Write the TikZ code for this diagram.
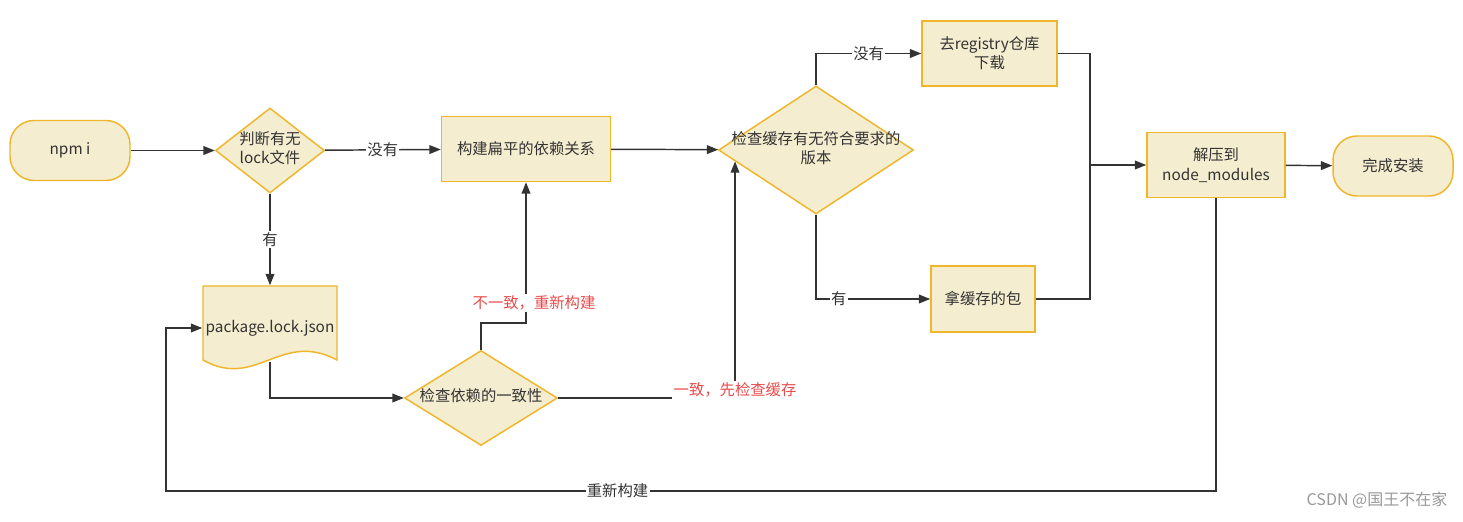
\documentclass[tikz,border=0pt]{standalone}
\usepackage{fontspec}
\setmainfont{Noto Sans CJK SC}
\usetikzlibrary{arrows.meta,shapes.geometric,calc}
\definecolor{boxfill}{HTML}{F5EDD0}
\definecolor{boxline}{HTML}{F0B62B}
\definecolor{wire}{HTML}{333333}
\definecolor{warn}{HTML}{E94B4B}
\newlength\px
\setlength\px{0.75pt}
\newcommand\diamtext[1]{\makebox[0pt]{\smash{\raisebox{-0.25em}{\begin{tabular}{@{}c@{}}#1\end{tabular}}}}}

\begin{document}
\begin{tikzpicture}[x=0.75pt,y=-0.75pt,font=\fontsize{11.5}{14.5}\selectfont]
 \tikzstyle{flow} = [draw=wire,line width=1.1pt,-{Triangle[length=8.5pt,width=6.5pt]}];
 \tikzstyle{wireline} = [draw=wire,line width=1.1pt];
 \tikzstyle{placeT} = [draw=boxline,fill=boxfill,line width=1.1pt,rounded corners=18pt,minimum width=120\px,minimum height=60\px,text=wire];
 \tikzstyle{placeP} = [draw=boxline,fill=boxfill,line width=1.1pt,align=center,text=wire,inner sep=0pt];
 \tikzstyle{placeD} = [diamond,draw=boxline,fill=boxfill,line width=1.1pt,inner sep=0pt,text=wire];
 \tikzstyle{lbl} = [fill=white,text=wire,inner sep=1pt];
 \tikzstyle{lblR} = [fill=white,text=warn,inner sep=1pt];

 \fill[white] (0,0) rectangle (1463,521);

 % document shape behind package.lock.json
 \filldraw[draw=boxline,fill=boxfill,line width=1.1pt] (203,286) -- (337,286) -- (337,360)
   .. controls (281,330) and (256,390) .. (203,360) -- cycle;

 \node[placeT,name=npm] at (70,150.5) {npm i};
 \node[placeD,name=lock,minimum width=109\px,minimum height=85\px] at (270,150.5) {\diamtext{判断有无\\lock文件}};
 \node[placeP,name=flat,minimum width=169\px,minimum height=65\px] at (526,149) {构建扁平的依赖关系};
 \node[placeD,name=cachechk,minimum width=195\px,minimum height=128\px] at (816,150) {\diamtext{检查缓存有无符合要求的\\版本}};
 \node[placeP,name=reg,minimum width=135\px,minimum height=65\px] at (989.5,53.5) {去registry仓库\\下载};
 \node[placeP,name=hit,minimum width=104\px,minimum height=66\px] at (983,299) {拿缓存的包};
 \node[placeP,name=unzip,minimum width=138\px,minimum height=65\px] at (1216,165) {解压到\\node\_modules};
 \node[placeT,name=done] at (1393,166) {完成安装};
 \node[placeP,draw=none,fill=none,name=pkg,minimum width=134\px,minimum height=84\px] at (270,328) {package.lock.json};
 \node[placeD,name=same,minimum width=153\px,minimum height=95\px] at (481,398) {\diamtext{检查依赖的一致性}};

 \coordinate (merge) at (1090,165);
 \coordinate (back) at (166,491);

 % connectors
 \draw[flow] (npm) -- (lock);
 \draw[flow] (lock) -- node[lbl]{没有} (flat);
 \draw[flow] (flat) -- (cachechk);
 \draw[flow] (lock) -- node[lbl]{有} (pkg);
 \draw[flow] ($(pkg.south)+(0,-9)$) |- (same.west);
 \draw[flow] (same.north) -- ++(0,-27) -| node[lblR,pos=0.57,xshift=6pt]{不一致，重新构建} (flat.south);
 \draw[flow] (same.east) -| node[lblR,pos=0.5,yshift=6pt]{一致，先检查缓存} (cachechk.188);
 \draw[flow] (cachechk.north) |- node[lbl,pos=0.75]{没有} (reg.west);
 \draw[flow] (cachechk.south) |- node[lbl,pos=0.6]{有} (hit.west);
 \draw[wireline] (reg.east) -| (merge);
 \draw[wireline] (hit.east) -| (merge);
 \draw[flow] (merge) -- (unzip.west);
 \draw[flow] (unzip) -- (done);
 \draw[flow] (unzip.south) |- node[lbl,pos=0.785]{重新构建} (back) |- (pkg.west);

 \node[text=black!40,anchor=east,name=mark,font=\fontsize{12}{14}\selectfont] at (1452,500) {CSDN @国王不在家};
\end{tikzpicture}
\end{document}
